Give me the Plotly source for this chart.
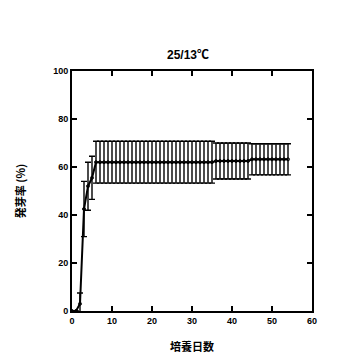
import plotly.graph_objects as go

days = list(range(0, 55))
germination = [0.0, 0.0, 3.0, 42.5, 52.0, 55.5,
               62.0, 62.0, 62.0, 62.0, 62.0, 62.0, 62.0, 62.0, 62.0, 62.0,
               62.0, 62.0, 62.0, 62.0, 62.0, 62.0, 62.0, 62.0, 62.0, 62.0,
               62.0, 62.0, 62.0, 62.0, 62.0, 62.0, 62.0, 62.0, 62.0, 62.0,
               62.5, 62.5, 62.5, 62.5, 62.5, 62.5, 62.5, 62.5, 62.5,
               63.2, 63.2, 63.2, 63.2, 63.2, 63.2, 63.2, 63.2, 63.2, 63.2]
error = [0.0, 0.0, 4.5, 11.5, 10.0, 9.0,
         8.7, 8.7, 8.7, 8.7, 8.7, 8.7, 8.7, 8.7, 8.7, 8.7,
         8.7, 8.7, 8.7, 8.7, 8.7, 8.7, 8.7, 8.7, 8.7, 8.7,
         8.7, 8.7, 8.7, 8.7, 8.7, 8.7, 8.7, 8.7, 8.7, 8.7,
         7.5, 7.5, 7.5, 7.5, 7.5, 7.5, 7.5, 7.5, 7.5,
         6.5, 6.5, 6.5, 6.5, 6.5, 6.5, 6.5, 6.5, 6.5, 6.5]

title_text = "25/13℃"
x_title = "培養日数"
y_title = "発芽率 (%)"
x_ticks = [0, 10, 20, 30, 40, 50, 60]
y_ticks = [0, 20, 40, 60, 80, 100]

fig = go.Figure()
fig.add_trace(go.Scatter(
    x=days, y=germination, mode="lines+markers",
    line=dict(color="black", width=2),
    marker=dict(symbol="circle-open", size=3, color="black", line=dict(width=1)),
    error_y=dict(type="data", array=error, visible=True, color="black",
                 thickness=1.4, width=3),
    showlegend=False,
))

font_family = "Liberation Sans, Arial, Noto Sans CJK JP, sans-serif"
axis_common = dict(
    showline=True, linecolor="black", linewidth=2, mirror="allticks",
    ticks="inside", ticklen=5, tickwidth=2, tickcolor="black",
    showgrid=False, zeroline=False, automargin=False,
    tickfont=dict(family=font_family, size=9, color="black", weight="bold"),
)

fig.update_layout(
    width=360, height=359,
    margin=dict(l=64, r=56, t=63, b=56),
    paper_bgcolor="white", plot_bgcolor="white",
    title=dict(text=title_text, x=0.5, xanchor="center", y=0.87, yanchor="middle",
               font=dict(family=font_family, size=12, color="black", weight="bold")),
    xaxis=dict(range=[0, 60], tickvals=x_ticks,
               title=dict(text=x_title, standoff=19,
                          font=dict(family="Noto Sans CJK JP", size=11, color="black", weight="bold")),
               **axis_common),
    yaxis=dict(range=[0, 100], tickvals=y_ticks,
               title=dict(text=y_title, standoff=25,
                          font=dict(family="Noto Sans CJK JP", size=11, color="black", weight="bold")),
               **axis_common),
)

fig.write_html("out.html")
